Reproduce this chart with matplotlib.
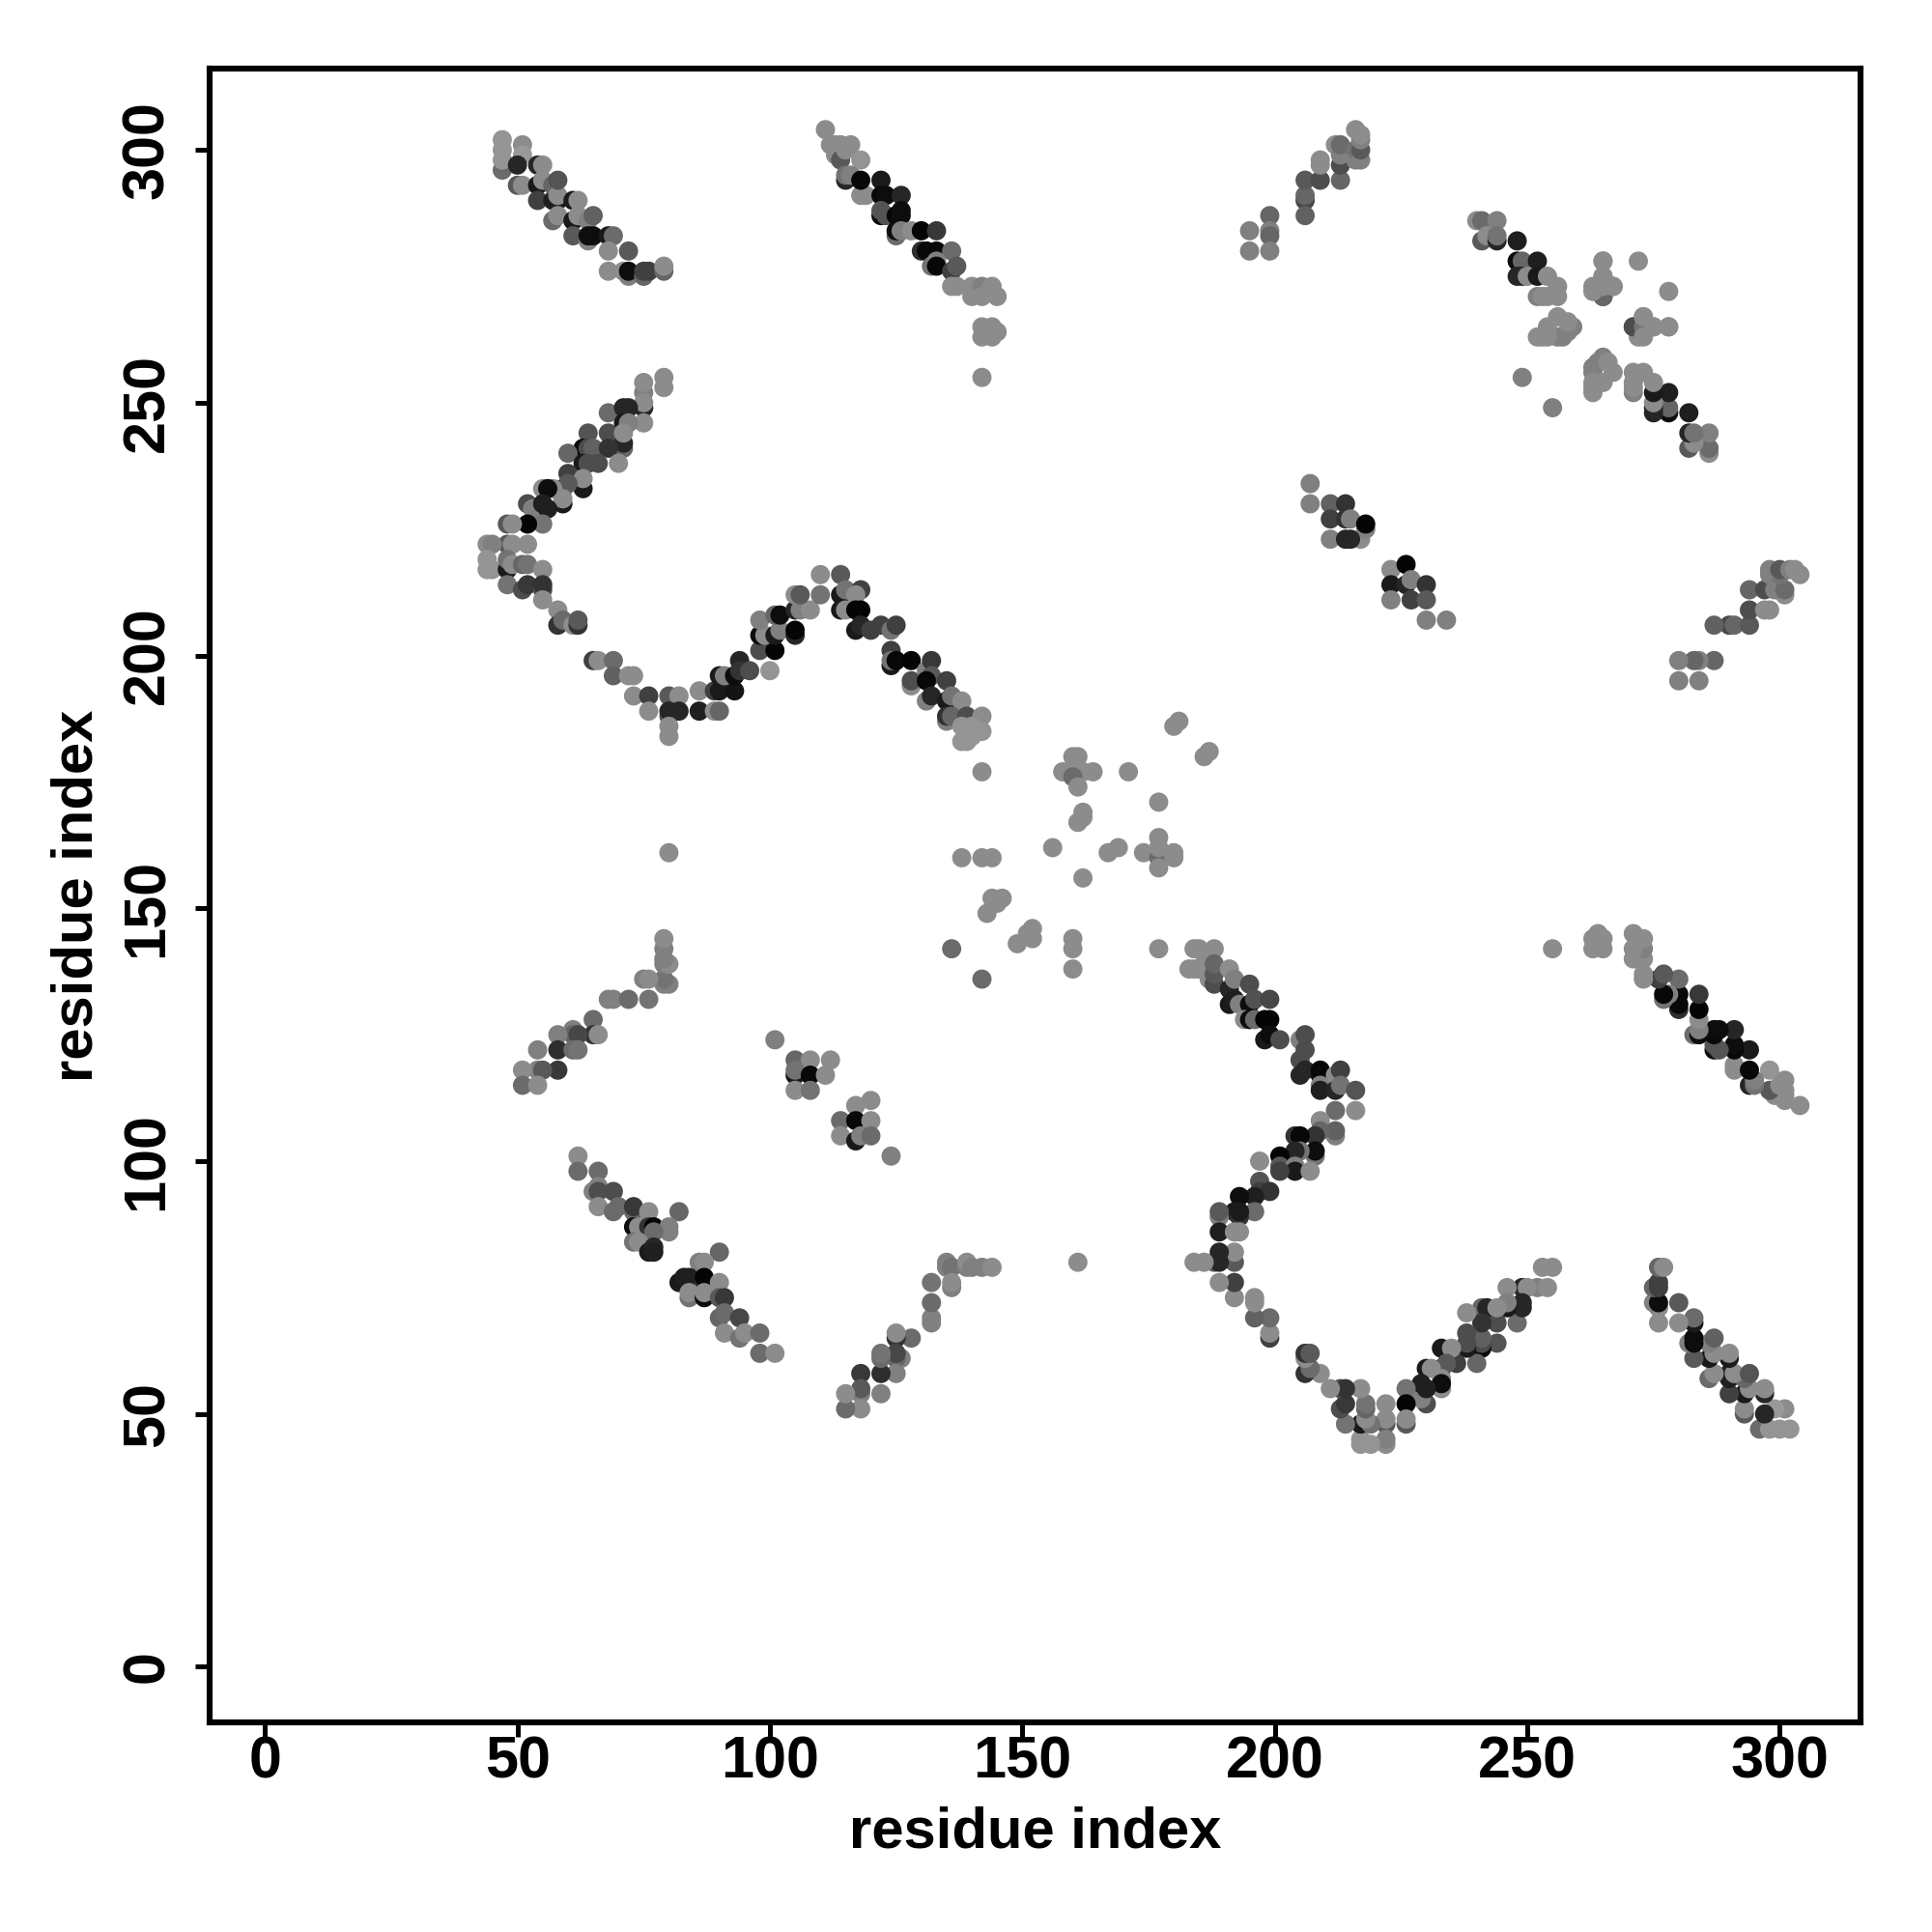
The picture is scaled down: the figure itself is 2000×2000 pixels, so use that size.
import numpy as np
import matplotlib
matplotlib.use("Agg")
import matplotlib.pyplot as plt

# (residue i, residue j, grey shade); "mirrored" groups are also shown at (j, i)
band_a = [(47,296,.42),(47,298,.58),(47,300,.58),(47,302,.58),(51,301,.55),(51,299,.6),(50,297,.15),(50,293,.35),(51,293,.55),
          (54,297,.15),(55,297,.55),(54,293,.1),(55,294,.55),(54,290,.25),(57,290,.12),(58,290,.12),(57,293,.4),(58,291,.55),(58,294,.33),
          (57,286,.42),(58,287,.55),(61,290,.1),(62,290,.55),(61,286,.1),(62,287,.55),(61,283,.35),(64,282,.5),(64,286,.5),(65,287,.38),
          (64,283,.05),(65,283,.05),(68,283,.1),(69,283,.42),(68,280,.55),(72,280,.35),(68,276,.55),(71,276,.55),(72,275,.5),(72,276,.05),
          (75,275,.4),(75,276,.25),(76,276,.25),(79,276,.4),(79,277,.55)]

band_b = [(79,255,.55),(79,253,.55),(75,249,.15),(75,252,.5),(75,250,.55),(75,254,.55),(68,248,.42),(71,249,.15),(72,249,.15),(75,246,.55),
          (71,246,.1),(72,246,.5),(64,244,.33),(68,244,.3),(71,241,.4),(71,242,.15),(71,244,.55),(63,241,.05),(64,241,.3),(65,241,.38),(68,241,.2),
          (60,240,.4),(70,238,.55),(63,238,.1),(64,238,.3),(66,238,.3),(60,236,.25),(63,233,.1),(63,235,.55),(59,233,.1),(60,234,.35),(59,230,.1),
          (59,231,.55),(55,233,.55),(57,233,.55),(56,233,.05),(52,230,.3),(53,229,.5),(55,230,.12),(56,229,.12),(55,226,.45),(52,226,.02),(48,226,.35),
          (49,226,.55),(52,222,.55),(48,222,.35),(49,222,.55),(44,222,.55),(45,222,.5),(44,219,.58),(44,217,.58),(45,217,.58),(48,217,.1),(48,219,.45),
          (49,218,.55),(51,218,.4),(52,218,.45),(55,217,.55),(48,214,.45),(51,213,.3),(52,214,.22),(55,213,.3),(55,214,.2),(55,211,.55),(58,209,.55),
          (58,206,.2),(59,207,.42),(61,206,.55),(62,206,.2),(62,207,.35),(65,199,.25),(66,199,.55),(69,199,.42),(69,196,.38),(72,196,.55),(73,196,.55),
          (73,192,.55),(76,192,.25),(76,189,.55),(80,192,.35),(82,192,.55),(80,188,.35),(80,189,.15),(82,189,.15),(80,186,.55),(80,184,.55)]

band_c = [(86,193,.55),(86,189,.12),(89,189,.55),(90,189,.4),(89,193,.25),(90,193,.1),(93,193,.08),(90,196,.1),(91,196,.5),(93,196,.05),
          (94,199,.15),(94,197,.2),(96,197,.3),(100,197,.58),(98,201,.3),(101,201,.02),(98,204,.05),(99,204,.55),(98,207,.5),(101,204,.1),(102,205,.5),
          (101,208,.4),(102,208,.05),(105,204,.15),(105,205,.02),(105,209,.15),(106,209,.5),(108,209,.55),(105,212,.55),(106,212,.35),(110,212,.45),
          (110,216,.55),(114,216,.35),(114,212,.1),(115,213,.45),(118,213,.25),(117,212,.55),(114,209,.1),(115,209,.55),(117,209,.02),(118,209,.02),
          (117,205,.1),(118,206,.15),(120,205,.25),(122,206,.25),(124,205,.45),(125,206,.25),(124,201,.25),(124,198,.1),(124,199,.45),(125,199,.03),
          (128,194,.55),(128,195,.3),(128,199,.02),(131,197,.5),(132,199,.22),(132,196,.35),(131,191,.5),(131,195,.03),(132,192,.15),(135,195,.25),
          (135,191,.1),(136,192,.45),(138,191,.55),(135,187,.5),(135,188,.2),(136,188,.4),(139,188,.3),(142,188,.55),(138,186,.58),(140,186,.58),
          (142,185,.58),(138,183,.58),(139,183,.58),(140,184,.58)]

band_d = [(111,304,.55),(112,301,.55),(113,301,.55),(114,301,.55),(116,301,.55),(113,299,.55),(114,298,.35),(115,300,.55),(118,298,.58),
          (115,294,.15),(115,295,.45),(116,295,.5),(118,291,.55),(119,291,.55),(118,294,.03),(122,294,.1),(122,291,.03),(123,291,.05),(126,291,.15),
          (122,287,.05),(122,288,.33),(123,287,.33),(125,287,.03),(126,288,.05),(126,287,.05),(125,283,.42),(125,284,.05),(126,284,.5),(128,284,.55),
          (130,284,.02),(133,284,.22),(130,280,.18),(131,280,.03),(133,280,.03),(136,280,.42),(132,277,.45),(133,278,.5),(133,277,.03),(136,276,.25),
          (137,277,.35),(136,273,.55),(137,273,.55),(140,273,.55),(140,271,.55),(142,273,.5),(142,271,.55),(144,273,.55),(145,271,.55),(142,265,.55),
          (144,265,.55),(142,263,.55),(144,263,.55),(145,264,.55),(142,255,.55)]

band_e = [(195,284,.5),(195,280,.5),(199,287,.4),(199,284,.5),(199,283,.4),(199,280,.5),(206,290,.28),(206,291,.4),(206,294,.35),(206,287,.38),
          (209,294,.3),(209,297,.55),(209,298,.55),(212,301,.55),(213,294,.4),(213,297,.3),(213,299,.5),(213,301,.42),(216,298,.5),(216,300,.45),
          (217,298,.5),(217,300,.35),(217,302,.5),(217,303,.55),(216,304,.55)]

band_f = [(80,161,.55),(79,135,.5),(80,135,.5),(79,136,.45),(79,139,.5),(80,139,.55),(79,140,.5),(79,142,.5),(79,144,.55),(75,136,.5),(76,136,.55),
          (68,132,.5),(69,132,.5),(72,132,.42),(76,132,.45),(65,128,.42),(65,125,.2),(66,125,.55),(61,126,.5),(61,125,.4),(62,125,.28),(58,125,.5),
          (58,122,.18),(61,122,.42),(62,122,.45),(54,122,.5),(58,118,.22),(54,118,.5),(55,118,.35),(51,118,.55),(51,115,.42),(54,115,.55)]

band_g = [(240,286,.55),(241,286,.42),(244,286,.5),(241,282,.35),(242,283,.55),(244,282,.15),(244,283,.45),(248,282,.12),(248,278,.05),(249,278,.4),
          (252,278,.12),(248,275,.15),(249,275,.15),(250,275,.55),(252,275,.1),(254,275,.55),(252,271,.5),(253,271,.55),(254,271,.55),(256,271,.55),
          (256,273,.55),(256,263,.5),(257,263,.5),(252,263,.55),(253,263,.55),(254,263,.55),(254,265,.55),(258,264,.5),(259,265,.5),(258,266,.55),
          (256,267,.55),(265,271,.3),(265,273,.45),(263,273,.55),(265,275,.55),(265,278,.55),(267,273,.55),(272,278,.55),(271,265,.4),(273,267,.55),
          (273,265,.55),(275,265,.55),(278,265,.55),(272,263,.55),(249,255,.5)]

# groups read in full, drawn once
band_h = [(183,138,.55),(184,142,.55),(185,142,.55),(184,138,.55),(185,138,.55),(188,142,.55),(186,139,.55),(187,136,.55),(188,135,.3),(188,137,.35),
          (188,139,.4),(191,138,.55),(191,134,.15),(192,136,.5),(191,131,.1),(192,132,.12),(193,131,.5),(195,135,.3),(195,131,.05),(196,132,.32),
          (199,132,.28),(194,128,.55),(195,128,.05),(196,128,.42),(198,128,.02),(199,128,.02),(198,124,.1),(199,125,.05),(201,124,.3),(205,124,.5),
          (206,125,.3),(206,122,.3),(205,120,.3),(205,117,.15),(206,118,.15),(209,117,.05),(209,118,.03),(212,117,.55),(213,118,.25),(209,115,.5),
          (209,114,.12),(212,114,.15),(213,115,.45),(216,114,.33),(212,110,.42),(216,110,.55),(209,108,.55),(212,105,.5),(212,106,.38),(209,106,.4),
          (208,105,.2),(204,105,.2),(205,105,.03),(208,101,.45),(208,102,.05),(205,102,.45),(204,102,.15),(201,101,.02),(201,99,.35),(204,99,.5),(204,98,.1),
          (207,98,.55),(201,98,.25),(197,100,.55),(197,96,.33),(197,94,.25),(199,94,.2),(196,93,.12),(196,90,.42),(193,93,.05),(192,90,.1),(193,89,.2),
          (193,90,.1),(189,89,.5),(189,90,.35),(189,86,.12),(192,86,.55),(193,86,.55)]

band_i = [(207,234,.5),(207,230,.5),(211,230,.38),(214,230,.2),(211,227,.25),(214,227,.2),(215,227,.5),(217,223,.55),(218,225,.5),(218,226,.02),
          (211,223,.5),(214,223,.15),(215,223,.15),(223,217,.55),(226,218,.02),(223,214,.1),(226,214,.15),(227,215,.5),(230,214,.2),(223,211,.5),
          (227,211,.25),(230,211,.35),(230,207,.5),(234,207,.5)]

band_j = [(181,187,.55),(180,186,.55),(186,180,.55),(187,181,.55),(160,180,.55),(161,180,.55),(158,177,.55),(160,177,.55),(162,177,.55),(164,177,.55),
          (160,176,.42),(161,174,.55),(171,177,.55),(142,177,.55),(177,171,.55),(162,169,.55),(162,168,.55),(161,167,.55),(156,162,.55),(138,160,.55),
          (142,160,.55),(144,160,.55),(167,161,.55),(169,162,.55),(174,161,.55),(177,160,.42),(177,162,.55),(177,164,.55),(180,160,.55),(180,161,.55),
          (177,158,.55),(162,156,.55),(144,152,.55),(146,152,.55),(145,151,.55),(143,149,.55),(149,143,.55),(152,144,.55),(151,145,.55),(152,146,.55),
          (160,144,.55),(160,142,.55),(160,138,.55),(177,142,.55),(136,142,.42),(142,136,.42)]

band_k = [(62,101,.55),(62,98,.42),(66,98,.42),(66,95,.5),(65,94,.5),(66,94,.3),(69,94,.3),(66,91,.55),(69,90,.42),(70,91,.42),(73,90,.4),(73,91,.22),
          (76,90,.55),(82,90,.4),(73,87,.05),(74,87,.55),(76,87,.2),(77,87,.02),(80,86,.5),(80,87,.5),(77,86,.42),(73,84,.45),(74,84,.55),(76,82,.1),
          (77,83,.15),(77,82,.12),(90,82,.4),(86,80,.5),(87,80,.55),(82,76,.1),(83,77,.12),(84,77,.12),(87,76,.2),(87,77,.02),(90,76,.55),(84,73,.45),
          (84,74,.55),(87,73,.05),(87,74,.55),(90,73,.35),(91,73,.22),(90,69,.4),(91,70,.42),(94,69,.28),(91,66,.55),(94,65,.45),(95,66,.55),(98,66,.42),
          (98,62,.42),(101,62,.55)]

band_l = [(101,124,.5),(105,120,.4),(108,120,.55),(112,120,.55),(105,117,.1),(105,118,.45),(108,117,.03),(111,117,.55),(105,114,.55),(108,114,.45),
          (117,111,.55),(120,112,.55),(114,108,.42),(117,108,.03),(120,108,.55),(114,105,.55),(117,104,.1),(118,105,.5),(120,105,.42),(124,101,.5)]

mirrored = [band_a, band_b, band_d, band_e, band_f, band_g]
upper_only = [band_c]
drawn_once = [band_h, band_i, band_j, band_k, band_l]

tick_values = [0, 50, 100, 150, 200, 250, 300]
x_title = "residue index"
y_title = "residue index"

plt.rcParams['font.family'] = ['Liberation Sans', 'DejaVu Sans']
plt.rcParams['font.weight'] = 'bold'

fig = plt.figure(figsize=(20, 20), dpi=100, facecolor='white')
ax = fig.add_axes([0.1084, 0.1085, 0.8546, 0.8558])


def draw(points, flip=False):
    arr = np.array(points)
    xs, ys = (arr[:, 1], arr[:, 0]) if flip else (arr[:, 0], arr[:, 1])
    ax.scatter(xs, ys, s=205, c=[str(g) for g in arr[:, 2]], linewidths=0, zorder=3)


for group in mirrored:
    draw(group)
    draw(group, flip=True)
for group in upper_only + drawn_once:
    draw(group)

ax.set_xlim(-11, 316)
ax.set_ylim(-11, 316)
ax.set_xticks(tick_values)
ax.set_yticks(tick_values)
ax.tick_params(axis='both', length=11, width=3.6, labelsize=44, color='black')
ax.tick_params(axis='x', pad=-1)
ax.tick_params(axis='y', pad=14)
for lab in ax.get_yticklabels():
    lab.set_rotation(90)
    lab.set_va('center')
for lab in ax.get_xticklabels() + ax.get_yticklabels():
    lab.set_fontweight('bold')
for sp in ax.spines.values():
    sp.set_linewidth(4.4)
ax.set_xlabel(x_title, fontsize=43, fontweight='bold', labelpad=11)
ax.set_ylabel(y_title, fontsize=43, fontweight='bold', labelpad=13)

fig.savefig('out.png', dpi=100)
